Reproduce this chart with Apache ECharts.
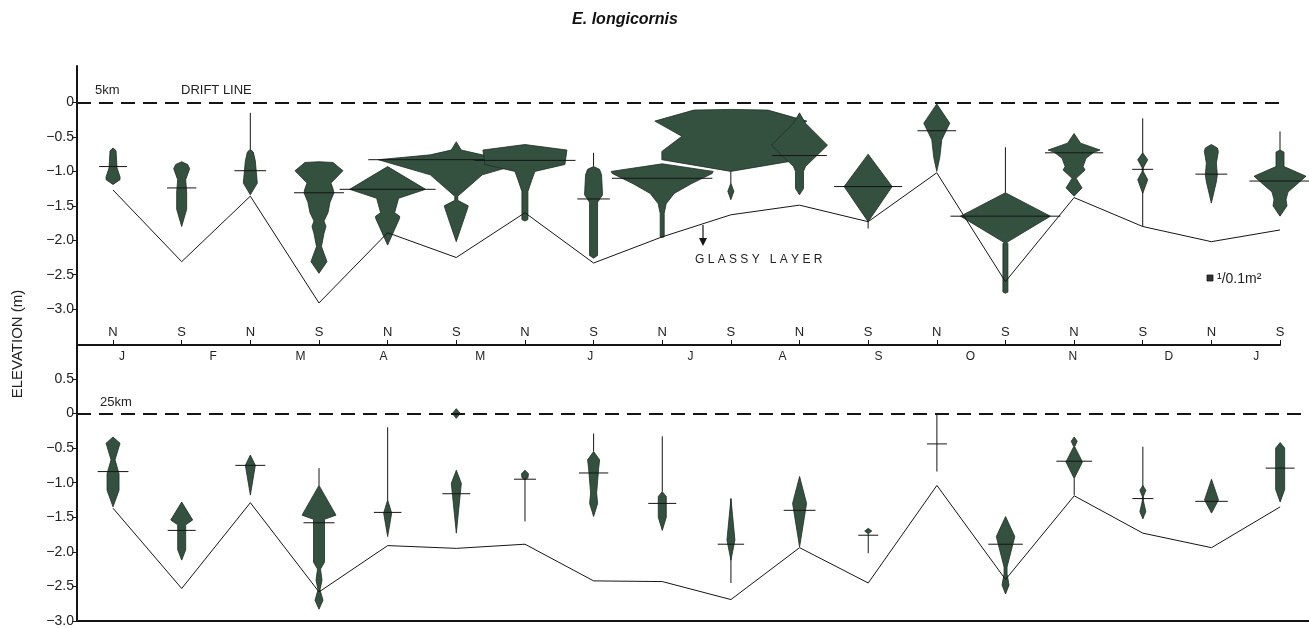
<!DOCTYPE html>
<html>
<head>
<meta charset="utf-8">
<title>E. longicornis</title>
<script src="https://cdn.jsdelivr.net/npm/echarts@6/dist/echarts.min.js"></script>
<style>
  html, body { margin: 0; padding: 0; background: #fff; }
  #chart { width: 1309px; height: 628px; }
</style>
</head>
<body>
<div id="chart"></div>
<script>
// sampling occasions, Jan .. Jan, alternating N / S
var stations = ['N','S','N','S','N','S','N','S','N','S','N','S','N','S','N','S','N','S'];
var months = ['J','F','M','A','M','J','J','A','S','O','N','D','J'];
var monthPos = [0.13, 1.46, 2.73, 3.94, 5.35, 6.95, 8.41, 9.75, 11.15, 12.49, 13.98, 15.38, 16.65];
var elevTicks5 = [0, -0.5, -1.0, -1.5, -2.0, -2.5, -3.0];
var elevTicks25 = [0.5, 0, -0.5, -1.0, -1.5, -2.0, -2.5, -3.0];

// lowest sampled level (solid line), m
var bed5 = [-1.27, -2.31, -1.36, -2.91, -1.89, -2.25, -1.60, -2.33, -1.95, -1.63, -1.49, -1.73, -1.02, -2.60, -1.38, -1.80, -2.02, -1.85];
var bed25 = [-1.37, -2.53, -1.29, -2.58, -1.91, -1.95, -1.89, -2.42, -2.43, -2.69, -1.94, -2.45, -1.04, -2.40, -1.19, -1.73, -1.94, -1.35];

// mean elevation of the population (horizontal bar)
var mean5 = [-0.93, -1.24, -0.99, -1.31, -1.26, -0.83, -0.84, -1.40, -1.10, null, -0.77, -1.22, -0.41, -1.65, -0.73, -0.97, -1.04, -1.14];
var mean25 = [-0.84, -1.69, -0.75, -1.58, -1.43, -1.16, -0.95, -0.86, -1.30, -1.89, -1.40, -1.76, -0.44, -1.89, -0.69, -1.23, -1.27, -0.79];

// levels where animals were found at very low numbers (thin vertical line)
var range5 = [null, null, [-0.15, -0.68], null, null, null, null, [-0.73, -0.93], null, [-1.00, -1.17],
  null, [-1.73, -1.83], null, [-0.65, -1.31], null, [-0.23, -1.80], null, [-0.42, -0.69]];
var range25 = [null, null, null, [-0.79, -1.04], [-0.20, -1.25], null, [-0.93, -1.56], [-0.29, -0.55], [-0.33, -1.13], [-1.23, -2.45],
  null, [-1.74, -2.02], [-0.01, -0.84], null, [-0.94, -1.18], [-0.48, -1.52], null, null];

// kite profiles: [elevation m, density per 0.1 m2]
var kite5 = [
  [[-0.66,0],[-0.70,1.2],[-0.95,1.6],[-1.08,2.8],[-1.12,2.8],[-1.19,0]],
  [[-0.86,0],[-0.90,2.4],[-0.96,3.2],[-1.04,2.4],[-1.12,1.6],[-1.30,2.0],[-1.55,2.0],[-1.80,0]],
  [[-0.68,0],[-0.72,1.2],[-0.85,2.0],[-1.17,2.8],[-1.34,0]],
  [[-0.86,0],[-0.87,5.6],[-0.99,9.6],[-1.05,8.0],[-1.17,4.8],[-1.25,5.6],[-1.31,6.0],[-1.45,4.4],[-1.60,3.6],[-1.72,2.0],[-1.80,2.8],[-1.90,2.0],[-2.09,1.0],[-2.31,3.2],[-2.48,0]],
  [[-0.93,0],[-1.26,15.2],[-1.39,4.4],[-1.60,2.8],[-1.65,4.8],[-1.68,4.8],[-2.07,0]],
  [[-0.57,0],[-0.69,2.0],[-0.76,10.4],[-0.83,31.2],[-1.05,10.4],[-1.36,0.6],[-1.42,0.6],[-1.50,4.8],[-1.55,4.4],[-2.02,0]],
  [[-0.61,0],[-0.69,16.8],[-0.90,16.0],[-1.00,4.0],[-1.12,2.8],[-1.29,1.2],[-1.70,1.2],[-1.72,0]],
  [[-0.93,0],[-0.97,2.4],[-1.05,3.2],[-1.34,3.6],[-1.45,1.6],[-2.22,1.6],[-2.26,0]],
  [[-0.89,0],[-1.00,20.4],[-1.03,20.0],[-1.18,11.6],[-1.32,4.8],[-1.47,1.6],[-1.61,0.8],[-1.95,0.8],[-1.96,0]],
  [[-0.10,0],[-0.11,14.8],[-0.27,30.4],[-0.49,19.6],[-0.71,27.6],[-0.83,27.6],[-1.00,0],[-1.17,0],[-1.29,1.2],[-1.41,0]],
  [[-0.15,0],[-0.30,2.4],[-0.62,11.2],[-0.93,2.4],[-1.00,1.6],[-1.25,1.6],[-1.34,0]],
  [[-0.75,0],[-1.22,9.6],[-1.73,0]],
  [[-0.02,0],[-0.30,5.2],[-0.54,2.0],[-0.80,1.2],[-1.00,0]],
  [[-1.31,0],[-1.65,18.0],[-2.03,0.6],[-2.05,1.0],[-2.75,1.0],[-2.77,0]],
  [[-0.45,0],[-0.59,2.6],[-0.69,10.4],[-0.72,8.0],[-0.81,4.8],[-0.93,3.6],[-0.98,4.4],[-1.10,0.8],[-1.24,3.2],[-1.36,0]],
  [[-0.73,0],[-0.83,2.0],[-0.95,0.2],[-1.00,0.2],[-1.12,2.0],[-1.32,0]],
  [[-0.61,0],[-0.66,2.4],[-0.71,2.8],[-0.88,2.0],[-1.05,2.4],[-1.15,2.0],[-1.46,0]],
  [[-0.69,0],[-0.72,1.6],[-0.93,1.6],[-1.07,10.4],[-1.30,3.2],[-1.41,2.4],[-1.50,2.8],[-1.65,0]]
];
var kite25 = [
  [[-0.34,0],[-0.43,2.8],[-0.67,0.8],[-0.87,2.4],[-1.11,2.4],[-1.35,0]],
  [[-1.28,0],[-1.54,4.4],[-1.61,1.6],[-1.97,1.6],[-2.12,0]],
  [[-0.60,0],[-0.75,2.0],[-1.18,0]],
  [[-1.04,0],[-1.47,6.8],[-1.53,2.2],[-2.15,2.2],[-2.25,0.6],[-2.41,1.2],[-2.55,0.4],[-2.70,1.6],[-2.83,0]],
  [[-1.25,0],[-1.44,1.6],[-1.78,0]],
  [[0.07,0],[0,1.6],[-0.07,0],[-0.82,0],[-1.01,2.0],[-1.73,0]],
  [[-0.82,0],[-0.87,1.4],[-0.93,1.2],[-0.96,0]],
  [[-0.55,0],[-0.67,2.4],[-0.80,2.0],[-1.15,1.2],[-1.30,1.6],[-1.49,0]],
  [[-1.13,0],[-1.20,1.6],[-1.50,1.6],[-1.69,0]],
  [[-1.23,0],[-1.83,1.6],[-2.12,0]],
  [[-0.91,0],[-1.30,2.8],[-1.93,0]],
  [[-1.66,0],[-1.70,1.4],[-1.74,0]],
  [],
  [[-1.49,0],[-1.78,3.7],[-2.22,0.6],[-2.32,0.6],[-2.48,1.4],[-2.61,0]],
  [[-0.34,0],[-0.40,1.2],[-0.48,0.2],[-0.70,3.3],[-0.94,0]],
  [[-1.04,0],[-1.11,1.2],[-1.20,0.2],[-1.26,0.2],[-1.42,1.2],[-1.52,0]],
  [[-0.95,0],[-1.25,2.8],[-1.44,0]],
  [[-0.42,0],[-0.50,1.8],[-1.10,1.8],[-1.28,0]]
];

var UNIT = 5; // px width of 1 /0.1m2 (legend square)
var INK = '#151515';
var KITE = '#34503f';
var FONT = '"Liberation Sans", Arial, sans-serif';

function halfAt(prof, e) {
  for (var k = 0; k < prof.length - 1; k++) {
    var a = prof[k], b = prof[k + 1];
    if (e <= a[0] && e >= b[0]) {
      var t = a[0] === b[0] ? 0 : (a[0] - e) / (a[0] - b[0]);
      return (a[1] + (b[1] - a[1]) * t) * UNIT / 2;
    }
  }
  return 0;
}

function kiteRenderer(kites, means, ranges) {
  return function (params, api) {
    var i = api.value(0);
    var prof = kites[i] || [];
    var children = [];

    if (ranges[i]) {
      var a = api.coord([i, ranges[i][0]]);
      var b = api.coord([i, ranges[i][1]]);
      children.push({ type: 'line', shape: { x1: a[0], y1: a[1], x2: b[0], y2: b[1] },
        style: { stroke: INK, lineWidth: 1 } });
    }

    // split profile where the width drops to zero
    var pieces = [], cur = [];
    prof.forEach(function (p) {
      cur.push(p);
      if (p[1] === 0 && cur.length > 1) { pieces.push(cur); cur = [p]; }
    });
    if (cur.length > 1) pieces.push(cur);

    pieces.forEach(function (pc) {
      if (!pc.some(function (p) { return p[1] > 0; })) return;
      var right = [], left = [];
      pc.forEach(function (p) {
        var c = api.coord([i, p[0]]);
        var h = p[1] * UNIT / 2;
        right.push([c[0] + h, c[1]]);
        left.unshift([c[0] - h, c[1]]);
      });
      children.push({ type: 'polygon', shape: { points: right.concat(left) },
        style: { fill: KITE, stroke: '#1e2d24', lineWidth: 0.8 } });
    });

    if (means[i] != null) {
      var m = api.coord([i, means[i]]);
      var hw = Math.max(halfAt(prof, means[i]) + 10, 10);
      children.push({ type: 'line', shape: { x1: m[0] - hw, y1: m[1], x2: m[0] + hw, y2: m[1] },
        style: { stroke: INK, lineWidth: 1 } });
    }
    return { type: 'group', children: children };
  };
}

function yLabel(v) { return v === 0 ? '0' : v.toFixed(1).replace('-', '\u2212'); }

var chart = echarts.init(document.getElementById('chart'));
var idx = stations.map(function (s, i) { return [i]; });
var driftLine = {
  silent: true, symbol: 'none', label: { show: false },
  lineStyle: { color: INK, type: [14, 8], width: 2 },
  data: [{ yAxis: 0 }]
};

chart.setOption({
  animation: false,
  textStyle: { fontFamily: FONT },
  grid: [
    { left: 77, top: 66, width: 1203, height: 279 },
    { left: 77, top: 345, width: 1232, height: 276 }
  ],
  xAxis: [
    { gridIndex: 0, type: 'value', min: -0.525, max: 17.0, position: 'bottom',
      splitLine: { show: false },
      axisLine: { onZero: false, lineStyle: { color: INK, width: 2 } },
      axisTick: { inside: true, length: 5, customValues: idx.map(function (d) { return d[0]; }),
        lineStyle: { color: INK, width: 1 } },
      axisLabel: { inside: true, margin: 6, fontSize: 13, color: '#222',
        customValues: idx.map(function (d) { return d[0]; }),
        formatter: function (v) { return stations[Math.round(v)] || ''; } } },
    { gridIndex: 1, type: 'value', min: -0.525, max: 17.42, position: 'bottom',
      splitLine: { show: false },
      axisLine: { onZero: false, lineStyle: { color: INK, width: 2 } },
      axisTick: { show: false }, axisLabel: { show: false } },
    { gridIndex: 1, type: 'value', min: -0.525, max: 17.42, position: 'top',
      splitLine: { show: false }, axisLine: { show: false, onZero: false }, axisTick: { show: false },
      axisLabel: { inside: true, margin: 6, fontSize: 12, color: '#222',
        customValues: monthPos,
        formatter: function (v) { return months[monthPos.indexOf(v)] || ''; } } }
  ],
  yAxis: [
    { gridIndex: 0, type: 'value', min: -3.52, max: 0.53,
      splitLine: { show: false },
      axisLine: { onZero: false, lineStyle: { color: INK, width: 2 } },
      axisTick: { length: 5, customValues: elevTicks5, lineStyle: { color: INK } },
      axisLabel: { margin: 3, fontSize: 14, color: '#222', customValues: elevTicks5, formatter: yLabel } },
    { gridIndex: 1, type: 'value', min: -3.0, max: 0.99,
      splitLine: { show: false },
      axisLine: { onZero: false, lineStyle: { color: INK, width: 2 } },
      axisTick: { length: 5, customValues: elevTicks25, lineStyle: { color: INK } },
      axisLabel: { margin: 3, fontSize: 14, color: '#222', customValues: elevTicks25, formatter: yLabel } }
  ],
  series: [
    { type: 'line', xAxisIndex: 0, yAxisIndex: 0, z: 3, symbol: 'none',
      data: bed5.map(function (v, i) { return [i, v]; }),
      lineStyle: { color: INK, width: 1 }, markLine: driftLine },
    { type: 'custom', xAxisIndex: 0, yAxisIndex: 0, z: 2, clip: false,
      data: idx, renderItem: kiteRenderer(kite5, mean5, range5) },
    { type: 'line', xAxisIndex: 1, yAxisIndex: 1, z: 3, symbol: 'none',
      data: bed25.map(function (v, i) { return [i, v]; }),
      lineStyle: { color: INK, width: 1 }, markLine: driftLine },
    { type: 'custom', xAxisIndex: 1, yAxisIndex: 1, z: 2, clip: false,
      data: idx, renderItem: kiteRenderer(kite25, mean25, range25) }
  ],
  graphic: [
    { type: 'text', x: 625, y: 20, style: { text: 'E. longicornis', fontFamily: FONT,
      fontSize: 16, fontWeight: 'bold', fontStyle: 'italic', fill: '#111',
      align: 'center', verticalAlign: 'middle' } },
    { type: 'text', x: 18, y: 344, rotation: Math.PI / 2,
      style: { text: 'ELEVATION (m)', fontFamily: FONT, fontSize: 15, fill: '#222',
        align: 'center', verticalAlign: 'middle' } },
    { type: 'text', x: 95, y: 90, style: { text: '5km', fontFamily: FONT, fontSize: 13, fill: '#222', verticalAlign: 'middle' } },
    { type: 'text', x: 181, y: 90, style: { text: 'DRIFT LINE', fontFamily: FONT, fontSize: 13, fill: '#222', verticalAlign: 'middle' } },
    { type: 'text', x: 100, y: 402, style: { text: '25km', fontFamily: FONT, fontSize: 13, fill: '#222', verticalAlign: 'middle' } },
    { type: 'text', x: 695, y: 260, style: { text: 'G L A S S Y   L A Y E R', fontFamily: FONT, fontSize: 12, fill: '#222', verticalAlign: 'middle' } },
    { type: 'line', shape: { x1: 703, y1: 225, x2: 703, y2: 240 }, style: { stroke: INK, lineWidth: 1.2 } },
    { type: 'polygon', shape: { points: [[699, 238], [707, 238], [703, 246]] }, style: { fill: INK } },
    { type: 'rect', shape: { x: 1207, y: 275, width: UNIT + 1, height: UNIT + 1 }, style: { fill: '#333', stroke: INK, lineWidth: 0.8 } },
    { type: 'text', x: 1217, y: 279, style: { text: '¹/0.1m²', fontFamily: FONT, fontSize: 14, fill: '#222', verticalAlign: 'middle' } }
  ]
});
</script>
</body>
</html>
